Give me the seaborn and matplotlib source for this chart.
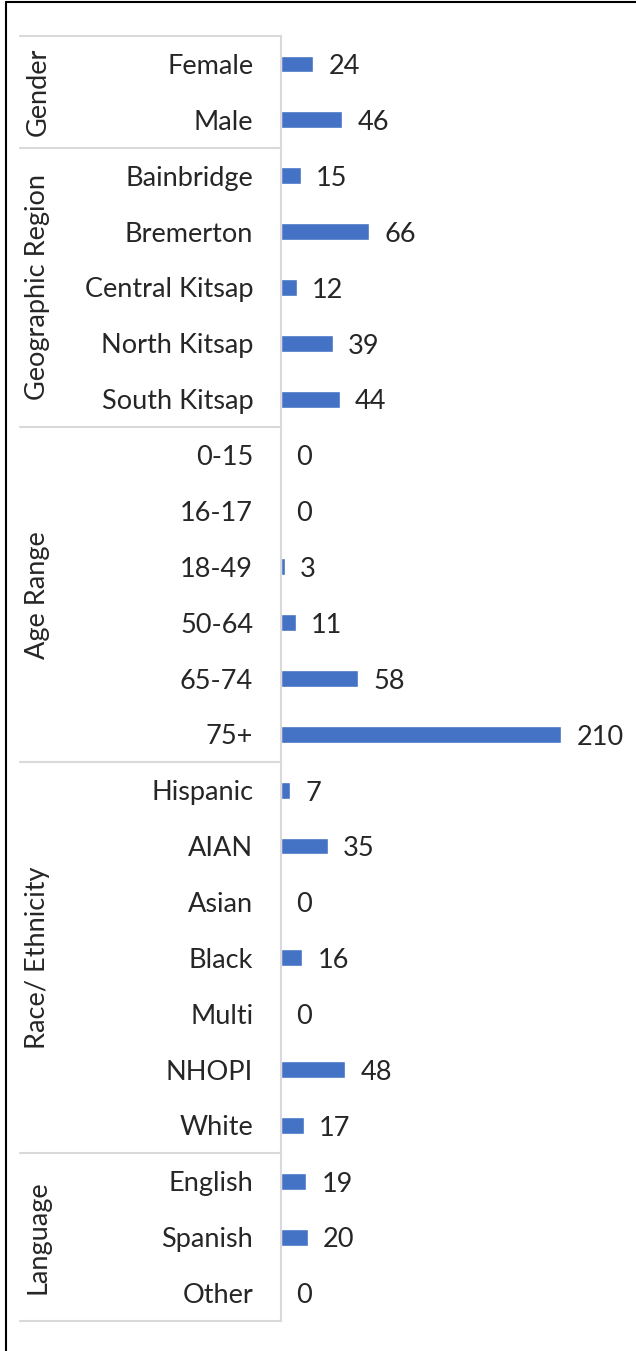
import matplotlib
matplotlib.use("Agg")
import matplotlib.pyplot as plt
import matplotlib.transforms as mtransforms
from matplotlib.lines import Line2D
import seaborn as sns

# Chart data
GROUPS = ["Gender", "Geographic Region", "Age Range", "Race/ Ethnicity", "Language"]
GROUP_SIZES = [2, 5, 6, 7, 3]
CATEGORIES = ["Female", "Male",
              "Bainbridge", "Bremerton", "Central Kitsap", "North Kitsap", "South Kitsap",
              "0-15", "16-17", "18-49", "50-64", "65-74", "75+",
              "Hispanic", "AIAN", "Asian", "Black", "Multi", "NHOPI", "White",
              "English", "Spanish", "Other"]
VALUES = [24, 46,
          15, 66, 12, 39, 44,
          0, 0, 3, 11, 58, 210,
          7, 35, 0, 16, 0, 48, 17,
          19, 20, 0]

BAR_COLOR = "#4472C4"
GRID_COLOR = "#D9D9D9"
FONT = ["Lato", "DejaVu Sans"]
FS = 19.5
W, H = 636, 1351


def main():
    sns.set_style("white")
    plt.rcParams["font.family"] = FONT

    fig = plt.figure(figsize=(W / 100, H / 100), dpi=100)
    ax_left, ax_top, ax_bottom = 281, 36, 1321
    ax = fig.add_axes([ax_left / W, 1 - ax_bottom / H, (W - ax_left) / W, (ax_bottom - ax_top) / H])

    sns.barplot(x=VALUES, y=CATEGORIES, color=BAR_COLOR, width=0.3, ax=ax, orient="h",
                saturation=1)
    labels = ax.bar_label(ax.containers[0], padding=11, fontsize=FS)
    # nudge value labels down a bit so digits sit centred on the bars
    for t in labels:
        t.xyann = (t.xyann[0], -2)

    ax.set_xlim(0, (W - ax_left) / (280 / 210))
    ax.set_ylim(len(CATEGORIES) - 0.5, -0.5)
    ax.set_xticks([])
    ax.tick_params(axis="y", length=0, pad=20, labelsize=FS)
    for side in ["top", "right", "bottom"]:
        ax.spines[side].set_visible(False)
    ax.spines["left"].set_color(GRID_COLOR)
    ax.spines["left"].set_linewidth(1.5)
    ax.set_xlabel("")
    ax.set_ylabel("")

    # group separators and rotated group labels
    trans = mtransforms.blended_transform_factory(ax.transAxes, ax.transData)
    x0 = (20 - ax_left) / (W - ax_left)
    xg = (38 - ax_left) / (W - ax_left)
    start = 0
    for name, size in zip(GROUPS, GROUP_SIZES):
        ax.plot([x0, 0], [start - 0.5, start - 0.5], color=GRID_COLOR, lw=1.5,
                transform=trans, clip_on=False)
        ax.text(xg, start + (size - 1) / 2, name, rotation=90, ha="center", va="center",
                fontsize=FS, transform=trans)
        start += size
    ax.plot([x0, 0], [start - 0.5, start - 0.5], color=GRID_COLOR, lw=1.5,
            transform=trans, clip_on=False)

    # outer border (left and top edges visible)
    fig.add_artist(Line2D([6 / W, 6 / W], [0, 1 - 2 / H], color="black", lw=1.5,
                          transform=fig.transFigure))
    fig.add_artist(Line2D([6 / W, 1], [1 - 2 / H, 1 - 2 / H], color="black", lw=1.5,
                          transform=fig.transFigure))

    fig.savefig("out.png", dpi=100)


if __name__ == "__main__":
    main()
